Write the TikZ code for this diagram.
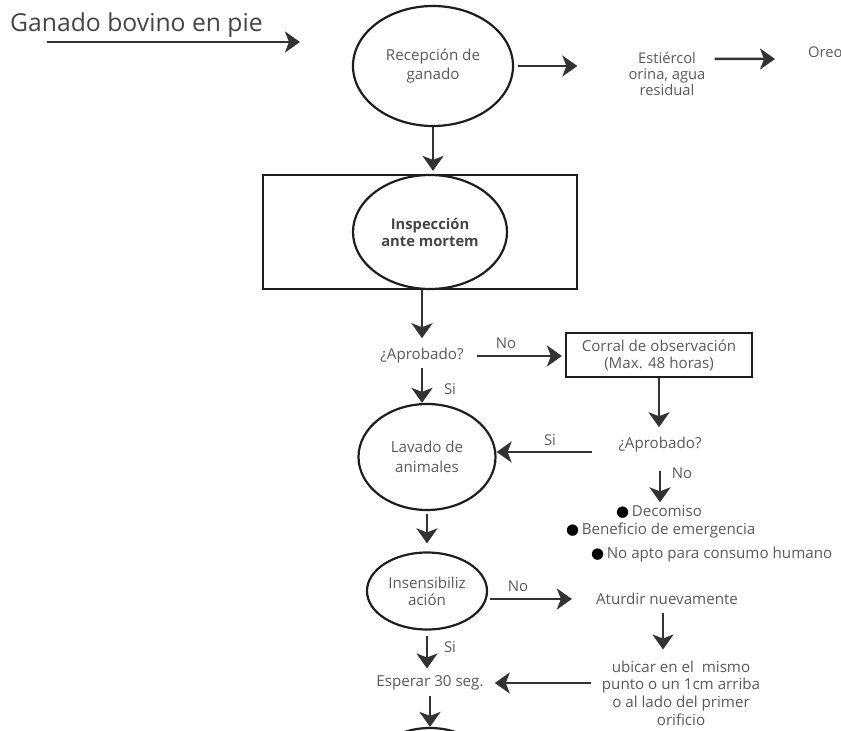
\documentclass[tikz,border=0pt]{standalone}
\usepackage{fontspec}
\setmainfont{Open Sans}
\newfontfamily\symfont{DejaVu Sans}
\usetikzlibrary{arrows.meta,shapes.geometric}
\definecolor{linec}{HTML}{333333}
\definecolor{rimc}{HTML}{1E1E1E}
\definecolor{txtc}{HTML}{5A5A5A}
\definecolor{titlec}{HTML}{454545}
\newcommand\bmark{{\symfont\fontsize{15}{15}\selectfont\textcolor{black}{●}}}
\begin{document}
\begin{tikzpicture}[x=1bp,y=-1bp,
  flow/.style={draw=linec, line width=2.5bp, -{Stealth[length=15bp,width=21bp,inset=4bp]}},
  txt/.style={inner sep=0pt, text=txtc, align=center, font=\fontsize{15.2}{17.7}\selectfont},
  oval/.style={ellipse, draw=rimc, line width=2.2bp, inner sep=0pt, text=txtc, align=center, font=\fontsize{15.2}{19.5}\selectfont},
  box/.style={rectangle, draw=rimc, line width=2.2bp, inner sep=0pt, text=txtc, align=center, font=\fontsize{15.2}{17}\selectfont},
  tag/.style={inner sep=0pt, text=txtc, font=\fontsize{15}{16}\selectfont},
]
\useasboundingbox (0,0) rectangle (841,731);
\clip (0,0) rectangle (841,731);

% input
\node[inner sep=0pt, anchor=west, text=titlec, font=\fontsize{24.8}{28}\selectfont] (title) at (10,25) {Ganado bovino en pie};
\coordinate (inA) at (47,42);
\coordinate (inB) at (300,42);

% reception
\node[oval, minimum width=160bp, minimum height=120bp] (recep) at (433,66) {Recepción de\\ganado};
\node[txt, font=\fontsize{14.8}{16.3}\selectfont] (estier) at (667,74) {Estiércol\\orina, agua\\residual};
\node[txt, anchor=west, font=\fontsize{14.8}{16.3}\selectfont] (oreo) at (808,52) {Oreo};

% ante mortem inspection
\node[box, minimum width=314bp, minimum height=114bp] (inspbox) at (420,232) {};
\node[oval, minimum width=154bp, minimum height=114bp, font=\bfseries\fontsize{14.8}{17}\selectfont, text=titlec] (insp) at (430,232) {Inspección\\ante mortem};

\node[txt] (apr1) at (422,356) {¿Aprobado?};
\node[box, minimum width=186bp, minimum height=44bp] (corral) at (659,355) {Corral de observación\\(Max. 48 horas)};
\node[txt] (apr2) at (660,445) {¿Aprobado?};

% rejected animals
\node[txt, anchor=west] (decom) at (616,512) {\bmark\,Decomiso};
\node[txt, anchor=west] (benef) at (566,531) {\bmark\,Beneficio de emergencia};
\node[txt, anchor=west] (noapto) at (591,555) {\bmark\,No apto para consumo humano};

% washing and stunning
\node[oval, minimum width=137bp, minimum height=106bp] (lavado) at (427,457) {Lavado de\\animales};
\node[oval, minimum width=120bp, minimum height=77bp, font=\fontsize{15.2}{17}\selectfont] (insens) at (427,591) {Insensibiliz\\ación};
\node[txt] (aturdir) at (667,599) {Aturdir nuevamente};
\node[txt] (ubicar) at (681,693) {ubicar en el\ \ mismo\\punto o un 1cm arriba\\o al lado del primer\\orificio};
\node[txt] (esperar) at (430,683) {Esperar 30 seg.};
\node[oval, minimum width=120bp, minimum height=84bp] (nextstep) at (430,770) {};

% branch labels
\node[tag] (lNo1) at (506,343) {No};
\node[tag] (lSi1) at (450,389) {Si};
\node[tag] (lSi2) at (550,440) {Si};
\node[tag] (lNo2) at (682,473) {No};
\node[tag] (lNo3) at (518,586) {No};
\node[tag] (lSi3) at (450,647) {Si};

% connectors
\draw[flow] (inA) -- (inB);
\draw[flow, shorten <=4bp, shorten >=51bp] (recep.east) -- (recep.east -| estier.west);
\draw[flow] ([shift={(9bp,15bp)}]estier.east) -- ([shift={(-33bp,-7bp)}]oreo.west);
\draw[flow, shorten >=3bp] (recep.south) -- (recep.south |- inspbox.north);
\draw[flow, shorten >=10bp] (apr1.north |- inspbox.south) -- (apr1.north);
\draw[flow, shorten <=13bp, shorten >=3bp] (apr1.east) -- (apr1.east -| corral.west);
\draw[flow, shorten <=4bp] (apr1.south) -- (apr1.south |- lavado.north);
\draw[flow, shorten >=10bp] (corral.south) -- (corral.south |- apr2.north);
\draw[flow, shorten <=26bp] ([yshift=-7bp]apr2.west) -- ([yshift=-7bp]apr2.west -| lavado.east);
\draw[flow, shorten <=18bp, shorten >=3bp] (apr2.south) -- (apr2.south |- decom.north);
\draw[flow, shorten <=3bp, shorten >=8bp] (lavado.south) -- (insens.north);
\draw[flow, shorten <=2bp, shorten >=24bp] (aturdir -| insens.east) -- (aturdir.west);
\draw[flow, shorten <=8bp, shorten >=11bp] ([xshift=-4bp]aturdir.south) -- ([xshift=-4bp]aturdir.south |- ubicar.north);
\draw[flow, shorten <=11bp, shorten >=11bp] (esperar.east -| ubicar.west) -- (esperar.east);
\draw[flow, shorten <=5bp, shorten >=7bp] (insens.south) -- (insens.south |- esperar.north);
\draw[flow, shorten <=5bp] (esperar.south) -- (esperar.south |- nextstep.north);
\end{tikzpicture}
\end{document}
